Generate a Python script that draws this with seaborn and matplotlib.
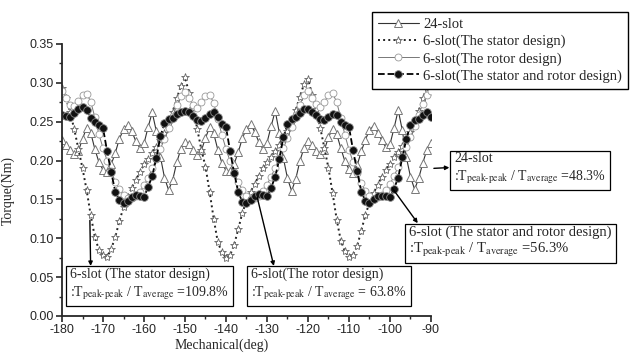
import matplotlib
matplotlib.use("Agg")
import matplotlib.pyplot as plt
import seaborn as sns
import numpy as np
from matplotlib.ticker import MultipleLocator, AutoMinorLocator

# mechanical angle, 1 deg steps
angle = list(range(-180, -89))

# 24-slot
slot24 = [0.226, 0.220, 0.213, 0.208, 0.212, 0.228, 0.242, 0.236, 0.215, 0.198,
          0.188, 0.185, 0.195, 0.210, 0.228, 0.240, 0.246, 0.238, 0.225, 0.216,
          0.222, 0.243, 0.262, 0.238, 0.205, 0.178, 0.162, 0.175, 0.198, 0.215,
          0.224, 0.221, 0.214, 0.207, 0.213, 0.229, 0.243, 0.235, 0.214, 0.197,
          0.187, 0.186, 0.196, 0.211, 0.229, 0.241, 0.247, 0.237, 0.224, 0.215,
          0.223, 0.244, 0.264, 0.236, 0.203, 0.177, 0.161, 0.176, 0.199, 0.216,
          0.225, 0.220, 0.212, 0.208, 0.214, 0.230, 0.241, 0.234, 0.216, 0.199,
          0.189, 0.184, 0.194, 0.212, 0.227, 0.239, 0.245, 0.236, 0.226, 0.217,
          0.221, 0.242, 0.265, 0.239, 0.204, 0.179, 0.163, 0.177, 0.197, 0.214,
          0.222]

# 6-slot, stator design
stator = [0.293, 0.280, 0.262, 0.240, 0.215, 0.190, 0.162, 0.130, 0.102, 0.085,
          0.078, 0.076, 0.086, 0.102, 0.122, 0.140, 0.153, 0.165, 0.175, 0.185,
          0.195, 0.202, 0.210, 0.218, 0.226, 0.236, 0.248, 0.263, 0.280, 0.296,
          0.307, 0.287, 0.268, 0.240, 0.214, 0.192, 0.160, 0.125, 0.095, 0.082,
          0.075, 0.078, 0.092, 0.112, 0.133, 0.148, 0.160, 0.170, 0.180, 0.190,
          0.198, 0.205, 0.212, 0.220, 0.228, 0.238, 0.250, 0.265, 0.282, 0.298,
          0.305, 0.285, 0.266, 0.242, 0.216, 0.190, 0.158, 0.124, 0.097, 0.083,
          0.076, 0.079, 0.090, 0.110, 0.130, 0.146, 0.158, 0.169, 0.179, 0.188,
          0.196, 0.204, 0.211, 0.219, 0.227, 0.237, 0.249, 0.264, 0.280, 0.294,
          0.300]

# 6-slot, rotor design
rotor = [0.290, 0.281, 0.272, 0.270, 0.277, 0.284, 0.286, 0.276, 0.256, 0.234,
         0.216, 0.200, 0.186, 0.173, 0.163, 0.156, 0.152, 0.152, 0.155, 0.160,
         0.168, 0.178, 0.190, 0.202, 0.215, 0.228, 0.242, 0.257, 0.271, 0.283,
         0.288, 0.280, 0.271, 0.268, 0.275, 0.283, 0.285, 0.274, 0.254, 0.233,
         0.215, 0.199, 0.185, 0.172, 0.162, 0.155, 0.151, 0.152, 0.155, 0.161,
         0.169, 0.179, 0.191, 0.203, 0.216, 0.229, 0.243, 0.258, 0.272, 0.284,
         0.289, 0.281, 0.273, 0.269, 0.276, 0.284, 0.287, 0.275, 0.255, 0.233,
         0.214, 0.198, 0.184, 0.171, 0.161, 0.154, 0.151, 0.153, 0.156, 0.162,
         0.170, 0.180, 0.192, 0.204, 0.217, 0.230, 0.244, 0.259, 0.273, 0.285,
         0.290]

# 6-slot, stator and rotor design
both = [0.259, 0.257, 0.256, 0.261, 0.267, 0.269, 0.265, 0.255, 0.249, 0.246,
        0.242, 0.212, 0.185, 0.160, 0.149, 0.145, 0.148, 0.153, 0.156, 0.155,
        0.153, 0.166, 0.180, 0.203, 0.231, 0.248, 0.253, 0.255, 0.260, 0.263,
        0.264, 0.262, 0.257, 0.252, 0.251, 0.255, 0.260, 0.262, 0.256, 0.247,
        0.243, 0.212, 0.184, 0.159, 0.147, 0.146, 0.149, 0.154, 0.157, 0.156,
        0.154, 0.165, 0.179, 0.202, 0.230, 0.247, 0.253, 0.256, 0.261, 0.266,
        0.267, 0.263, 0.258, 0.254, 0.252, 0.256, 0.260, 0.258, 0.250, 0.246,
        0.243, 0.213, 0.186, 0.160, 0.148, 0.146, 0.150, 0.154, 0.155, 0.154,
        0.153, 0.164, 0.178, 0.204, 0.228, 0.246, 0.252, 0.254, 0.258, 0.262,
        0.256]

labels = ["24-slot", "6-slot(The stator design)", "6-slot(The rotor design)",
          "6-slot(The stator and rotor design)"]

sns.set_style("ticks")
plt.rcParams['font.family'] = ['Liberation Sans', 'DejaVu Sans']
plt.rcParams['mathtext.fontset'] = 'stix'
plt.rcParams['axes.unicode_minus'] = False
serif = ['Liberation Serif', 'DejaVu Serif']

fig = plt.figure(figsize=(6.38, 3.56), dpi=100)
ax = fig.add_axes([62/638, 1-316/356, (431-62)/638, (316-44)/356])

sns.lineplot(x=angle, y=slot24, ax=ax, color="#333333", linestyle="-", linewidth=0.8,
             marker="^", markersize=6, markerfacecolor="white", markeredgecolor="#777777",
             markeredgewidth=0.7, label=labels[0])
sns.lineplot(x=angle, y=stator, ax=ax, color="#222222", linestyle=":", linewidth=1.4,
             marker="*", markersize=6, markerfacecolor="white", markeredgecolor="#666666",
             markeredgewidth=0.6, label=labels[1])
sns.lineplot(x=angle, y=rotor, ax=ax, color="#777777", linestyle="-", linewidth=0.7,
             marker="o", markersize=5, markerfacecolor="white", markeredgecolor="#999999",
             markeredgewidth=0.6, label=labels[2])
sns.lineplot(x=angle, y=both, ax=ax, color="black", linestyle="--", linewidth=1.3,
             marker="o", markersize=5.5, markerfacecolor="#111111", markeredgecolor="#888888",
             markeredgewidth=0.6, label=labels[3])

ax.set_xlim(-180, -90)
ax.set_ylim(0, 0.35)
ax.xaxis.set_major_locator(MultipleLocator(10))
ax.yaxis.set_major_locator(MultipleLocator(0.05))
ax.xaxis.set_minor_locator(AutoMinorLocator(2))
ax.yaxis.set_minor_locator(AutoMinorLocator(2))
ax.yaxis.set_major_formatter(plt.FormatStrFormatter('%.2f'))
ax.tick_params(which='major', direction='out', length=4, width=1.2, labelsize=9, pad=2)
ax.tick_params(which='minor', direction='out', length=2, width=1.0)
for s in ["top", "right"]:
    ax.spines[s].set_visible(False)
for s in ["left", "bottom"]:
    ax.spines[s].set_linewidth(1.3)

ax.set_xlabel("Mechanical(deg)", family=serif, fontsize=10)
ax.set_ylabel("Torque(Nm)", family=serif, fontsize=10)
ax.xaxis.set_label_coords((222-62)/369, -(339-316)/272)
ax.yaxis.set_label_coords((15-62)/369, 0.46)

h, l = ax.get_legend_handles_labels()
leg = ax.legend(h, l, loc="upper right", bbox_to_anchor=(635/638, 1-5/356),
                bbox_transform=fig.transFigure, frameon=True, fancybox=False,
                edgecolor="black", framealpha=1, handlelength=2.8, handletextpad=0.3,
                labelspacing=0.25, borderpad=0.4, prop={'family': serif, 'size': 10.5})
leg.get_frame().set_linewidth(1.0)

box = dict(boxstyle="square,pad=0.3", fc="white", ec="black", lw=0.9)
ratio = ":T$_{\\rm peak\\text{-}peak}$ / T$_{\\rm average}$ ="
fs = 10

ax.annotate("6-slot (The stator design)\n" + ratio + "109.8%",
            xy=(-173.2, 0.123), xytext=(70/638, 1-285/356), textcoords='figure fraction',
            ha='left', va='center', family=serif, fontsize=fs, bbox=box, linespacing=1.25,
            arrowprops=dict(arrowstyle='<|-', color='black', lw=1.0, relpos=(0.13, 1.0),
                            mutation_scale=6, shrinkA=0, shrinkB=0))
ax.annotate("6-slot(The rotor design)\n" + ratio + " 63.8%",
            xy=(-132.4, 0.153), xytext=(251/638, 1-285/356), textcoords='figure fraction',
            ha='left', va='center', family=serif, fontsize=fs, bbox=box, linespacing=1.25,
            arrowprops=dict(arrowstyle='<|-', color='black', lw=1.0, relpos=(0.15, 1.0),
                            mutation_scale=6, shrinkA=0, shrinkB=0))
ax.annotate("6-slot (The stator and rotor design)\n" + ratio + "56.3%",
            xy=(-99.5, 0.165), xytext=(409/638, 1-242/356), textcoords='figure fraction',
            ha='left', va='center', family=serif, fontsize=10.5, bbox=box, linespacing=1.2,
            arrowprops=dict(arrowstyle='<|-', color='black', lw=1.0, relpos=(0.05, 1.0),
                            mutation_scale=6, shrinkA=0, shrinkB=0))
ax.annotate("24-slot\n" + ratio + "48.3%",
            xy=(-89.3, 0.19), xytext=(454/638, 1-169/356), textcoords='figure fraction',
            ha='left', va='center', family=serif, fontsize=fs, bbox=box, linespacing=1.25,
            annotation_clip=False,
            arrowprops=dict(arrowstyle='<|-', color='black', lw=1.0, relpos=(0.0, 0.55),
                            mutation_scale=6, shrinkA=0, shrinkB=0))

fig.savefig("out.png", dpi=100)
